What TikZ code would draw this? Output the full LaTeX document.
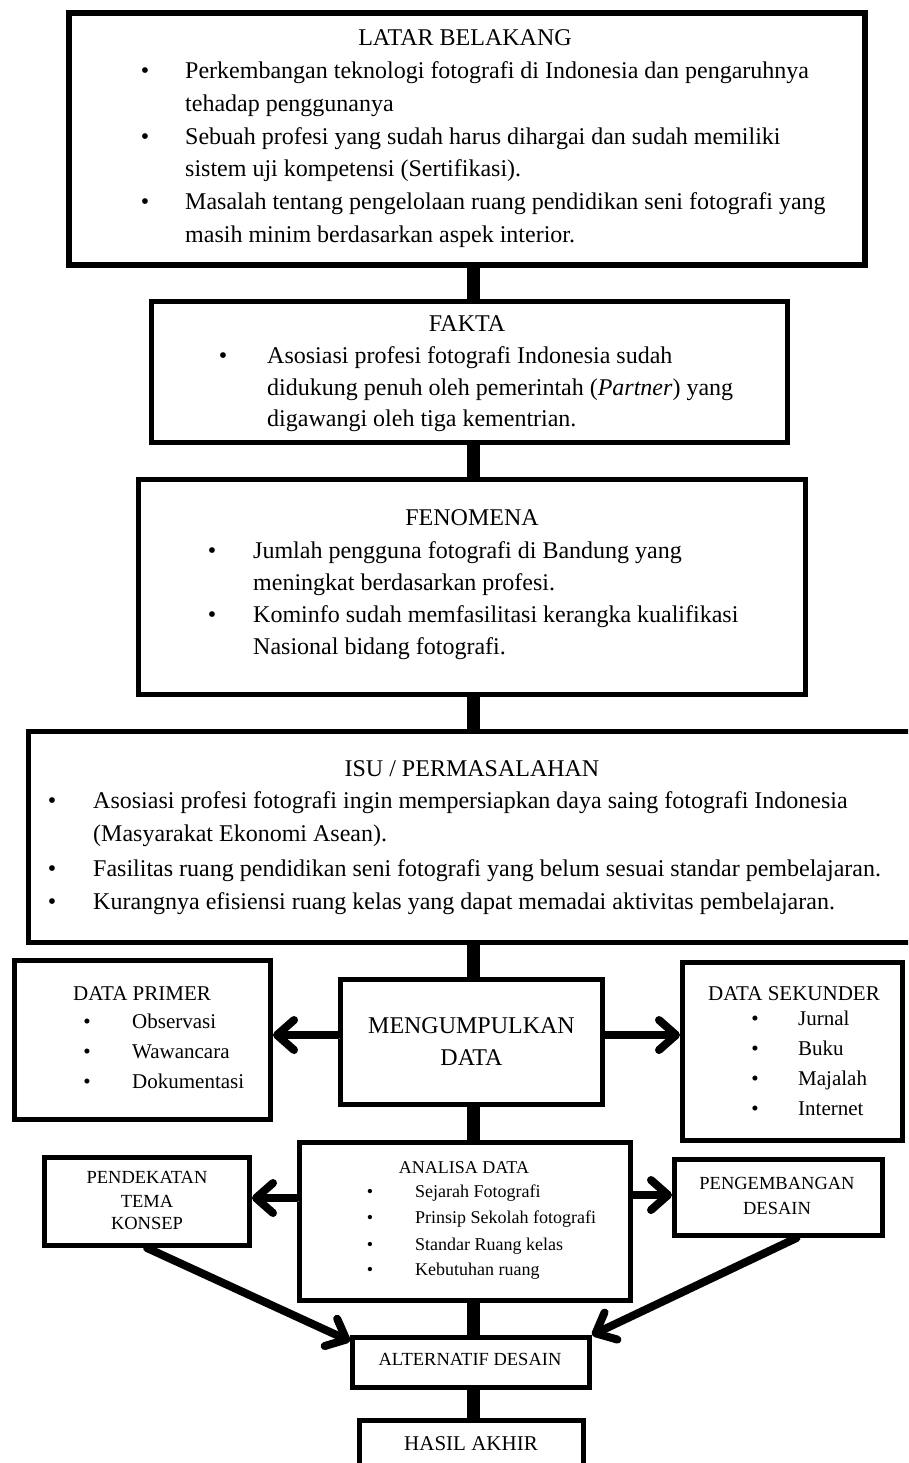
\documentclass[tikz,border=0pt]{standalone}
\usepackage{fontspec}
\setmainfont{Liberation Serif}
\usetikzlibrary{arrows.meta}
\begin{document}
\begin{tikzpicture}[x=1pt,y=-1pt,
  box/.style={draw=black, line width=5pt, fill=white, inner sep=0pt},
  bigbox/.style={box, line width=6pt},
  bar/.style={line width=13pt, draw=black},
  arr/.style={line width=8pt, line cap=round,
    -{Straight Barb[length=17pt,width=30pt,round]},
    preaction={draw=black!22, -{Straight Barb[length=17pt,width=30pt,round]},
      transform canvas={shift={(2pt,-3pt)}}}},
  fa/.style={font=\fontsize{24}{28}\selectfont, inner sep=0pt},
  fb/.style={font=\fontsize{21}{25}\selectfont, inner sep=0pt},
  fc/.style={font=\fontsize{18.5}{22}\selectfont, inner sep=0pt},
  fd/.style={font=\fontsize{18}{22}\selectfont, inner sep=0pt},
]
\useasboundingbox (0,0) rectangle (908,1463);
\clip (0,0) rectangle (908,1463);
\fill[white] (0,0) rectangle (908,1463);

% boxes
\node[bigbox, minimum width=796pt, minimum height=252pt] (b1) at (467,139) {};
\node[box, minimum width=636pt, minimum height=141pt] (fakta) at (469.5,372) {};
\node[box, minimum width=667pt, minimum height=215pt] (fen) at (472,587) {};
\node[box, minimum width=885.5pt, minimum height=211pt] (isu) at (471.25,837) {};
\node[box, minimum width=256pt, minimum height=159pt] (prim) at (142.5,1040) {};
\node[box, minimum width=262pt, minimum height=125pt] (meng) at (471.5,1042) {};
\node[box, minimum width=220pt, minimum height=178pt] (sek) at (792.5,1051.5) {};
\node[box, minimum width=331pt, minimum height=158pt] (anal) at (465,1221.5) {};
\node[box, minimum width=205pt, minimum height=88pt] (pend) at (147,1201.5) {};
\node[box, minimum width=208pt, minimum height=76pt] (peng) at (778.5,1197.5) {};
\node[box, minimum width=237pt, minimum height=50pt] (alt) at (471,1362.5) {};
\node[box, minimum width=224pt, minimum height=50pt] (has) at (471.5,1445) {};

% spine connectors
\coordinate (spine) at (473,0);
\draw[bar] (b1.south -| spine) -- (fakta.north -| spine);
\draw[bar] (fakta.south -| spine) -- (fen.north -| spine);
\draw[bar] (fen.south -| spine) -- (isu.north -| spine);
\draw[bar] (isu.south -| spine) -- (meng.north -| spine);
\draw[bar] (meng.south -| spine) -- (anal.north -| spine);
\draw[bar] (anal.south -| spine) -- (alt.north -| spine);
\draw[bar] (alt.south -| spine) -- (has.north -| spine);

% arrows
\coordinate (ya) at (0,1035);
\coordinate (yb) at (0,1198);
\coordinate (yc) at (0,1195);
\draw[arr] (meng.west |- ya) -- (prim.east |- ya);
\draw[arr] (meng.east |- ya) -- (sek.west |- ya);
\draw[arr] (anal.west |- yb) -- (pend.east |- yb);
\draw[arr] (anal.east |- yc) -- (peng.west |- yc);
\draw[arr] (pend.south) -- (alt.170);
\draw[arr] ([xshift=18pt]peng.south) -- (alt.north east);

% LATAR BELAKANG
\node[fa, anchor=base] (t1) at (465,46) {LATAR BELAKANG};
\node[fa, anchor=base] (t1b1) at (145,78.5) {\textbullet};
\node[fa, anchor=base west] (t1l1) at (185,78.5) {Perkembangan teknologi fotografi di Indonesia dan pengaruhnya};
\node[fa, anchor=base west] (t1l2) at (185,111.3) {tehadap penggunanya};
\node[fa, anchor=base] (t1b2) at (145,144.1) {\textbullet};
\node[fa, anchor=base west] (t1l3) at (185,144.1) {Sebuah profesi yang sudah harus dihargai dan sudah memiliki};
\node[fa, anchor=base west] (t1l4) at (185,176.9) {sistem uji kompetensi (Sertifikasi).};
\node[fa, anchor=base] (t1b3) at (145,209.7) {\textbullet};
\node[fa, anchor=base west] (t1l5) at (185,209.7) {Masalah tentang pengelolaan ruang pendidikan seni fotografi yang};
\node[fa, anchor=base west] (t1l6) at (185,242.5) {masih minim berdasarkan aspek interior.};

% FAKTA
\node[fa, anchor=base] (t2) at (467,331) {FAKTA};
\node[fa, anchor=base] (t2b1) at (223,363) {\textbullet};
\node[fa, anchor=base west] (t2l1) at (267,363) {Asosiasi profesi fotografi Indonesia sudah};
\node[fa, anchor=base west] (t2l2) at (267,395) {didukung penuh oleh pemerintah (\textit{Partner}) yang};
\node[fa, anchor=base west] (t2l3) at (267,426) {digawangi oleh tiga kementrian.};

% FENOMENA
\node[fa, anchor=base] (t3) at (472,525) {FENOMENA};
\node[fa, anchor=base] (t3b1) at (212,558) {\textbullet};
\node[fa, anchor=base west] (t3l1) at (253,558) {Jumlah pengguna fotografi di Bandung yang};
\node[fa, anchor=base west] (t3l2) at (253,590) {meningkat berdasarkan profesi.};
\node[fa, anchor=base] (t3b2) at (212,622) {\textbullet};
\node[fa, anchor=base west] (t3l3) at (253,622) {Kominfo sudah memfasilitasi kerangka kualifikasi};
\node[fa, anchor=base west] (t3l4) at (253,654) {Nasional bidang fotografi.};

% ISU
\node[fa, anchor=base] (t4) at (472,776) {ISU / PERMASALAHAN};
\node[fa, anchor=base] (t4b1) at (52,808) {\textbullet};
\node[fa, anchor=base west] (t4l1) at (93,808) {Asosiasi profesi fotografi ingin mempersiapkan daya saing fotografi Indonesia};
\node[fa, anchor=base west] (t4l2) at (93,841) {(Masyarakat Ekonomi Asean).};
\node[fa, anchor=base] (t4b2) at (52,876) {\textbullet};
\node[fa, anchor=base west] (t4l3) at (93,876) {Fasilitas ruang pendidikan seni fotografi yang belum sesuai standar pembelajaran.};
\node[fa, anchor=base] (t4b3) at (52,909) {\textbullet};
\node[fa, anchor=base west] (t4l4) at (93,909) {Kurangnya efisiensi ruang kelas yang dapat memadai aktivitas pembelajaran.};

% DATA PRIMER
\node[fb, anchor=base] (t5) at (142,1000) {DATA PRIMER};
\node[fb, anchor=base] (t5b1) at (87,1028) {\textbullet};
\node[fb, anchor=base west] (t5l1) at (132,1028) {Observasi};
\node[fb, anchor=base] (t5b2) at (87,1058) {\textbullet};
\node[fb, anchor=base west] (t5l2) at (132,1058) {Wawancara};
\node[fb, anchor=base] (t5b3) at (87,1088) {\textbullet};
\node[fb, anchor=base west] (t5l3) at (132,1088) {Dokumentasi};

% MENGUMPULKAN DATA
\node[fa, anchor=base] (t6a) at (471.5,1033) {MENGUMPULKAN};
\node[fa, anchor=base] (t6b) at (471.5,1065) {DATA};

% DATA SEKUNDER
\node[fb, anchor=base] (t7) at (794,1000) {DATA SEKUNDER};
\node[fb, anchor=base] (t7b1) at (755,1025) {\textbullet};
\node[fb, anchor=base west] (t7l1) at (798,1025) {Jurnal};
\node[fb, anchor=base] (t7b2) at (755,1055) {\textbullet};
\node[fb, anchor=base west] (t7l2) at (798,1055) {Buku};
\node[fb, anchor=base] (t7b3) at (755,1085) {\textbullet};
\node[fb, anchor=base west] (t7l3) at (798,1085) {Majalah};
\node[fb, anchor=base] (t7b4) at (755,1115) {\textbullet};
\node[fb, anchor=base west] (t7l4) at (798,1115) {Internet};

% ANALISA DATA
\node[fd, anchor=base] (t8) at (464,1173) {ANALISA DATA};
\node[fd, anchor=base] (t8b1) at (370,1197) {\textbullet};
\node[fd, anchor=base west] (t8l1) at (415,1197) {Sejarah Fotografi};
\node[fd, anchor=base] (t8b2) at (370,1223) {\textbullet};
\node[fd, anchor=base west] (t8l2) at (415,1223) {Prinsip Sekolah fotografi};
\node[fd, anchor=base] (t8b3) at (370,1250) {\textbullet};
\node[fd, anchor=base west] (t8l3) at (415,1250) {Standar Ruang kelas};
\node[fd, anchor=base] (t8b4) at (370,1275) {\textbullet};
\node[fd, anchor=base west] (t8l4) at (415,1275) {Kebutuhan ruang};

% PENDEKATAN
\node[fc, anchor=base] (t9a) at (147,1183) {PENDEKATAN};
\node[fc, anchor=base] (t9b) at (147,1207) {TEMA};
\node[fc, anchor=base] (t9c) at (147,1229) {KONSEP};

% PENGEMBANGAN
\node[fc, anchor=base] (t10a) at (777,1189) {PENGEMBANGAN};
\node[fc, anchor=base] (t10b) at (777,1214) {DESAIN};

% ALTERNATIF / HASIL
\node[fc, anchor=base] (t11) at (470,1365) {ALTERNATIF DESAIN};
\node[fb, anchor=base] (t12) at (471,1450) {HASIL AKHIR};
\end{tikzpicture}
\end{document}
